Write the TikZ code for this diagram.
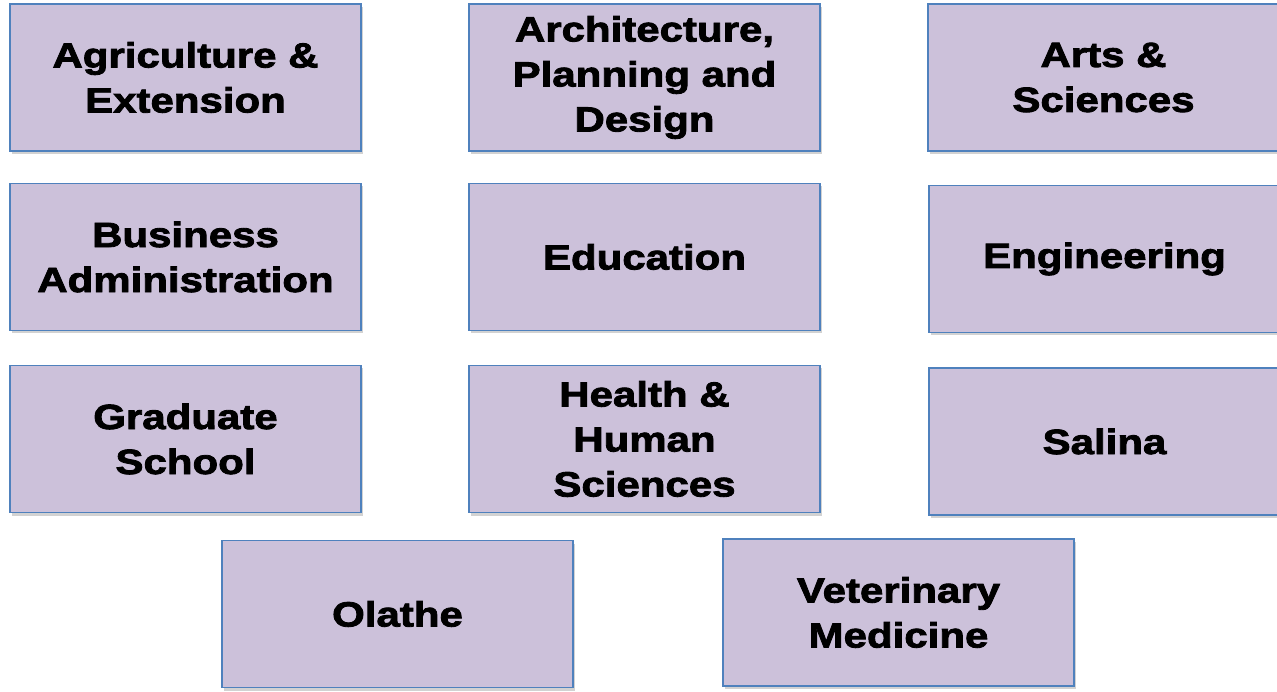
\documentclass[tikz,border=0pt]{standalone}
\usepackage{fontspec}
\setmainfont{Liberation Sans}
\newfontfamily\unitfont[FakeStretch=1.2,FakeBold=2.4]{Liberation Sans Bold}
\usetikzlibrary{shadows}
\definecolor{unitfill}{HTML}{CCC1DA}
\definecolor{unitline}{HTML}{4F81BD}
\tikzset{
  unit/.style={rectangle,draw=unitline,line width=1.2pt,fill=unitfill,
    minimum width=351pt,minimum height=147pt,align=center,
    font=\unitfont\fontsize{35}{45}\selectfont,
    drop shadow={shadow xshift=2pt,shadow yshift=-3pt,fill=black!35}}
}

\begin{document}
\begin{tikzpicture}[x=1pt,y=-1pt]
      \useasboundingbox (0,0) rectangle (1277,692);
      \node[unit](agri) at (185.5,77.5){Agriculture \&\\Extension};
      \node[unit](arch) at (644.5,77.5){Architecture,\\Planning and\\Design};
      \node[unit](arts) at (1103.5,77.5){Arts \&\\Sciences};
      \node[unit](busi) at (185.5,257){Business\\Administration};
      \node[unit](educ) at (644.5,257){Education};
      \node[unit](engi) at (1104.5,259){Engineering};
      \node[unit](grad) at (185.5,439){Graduate\\School};
      \node[unit](hhs) at (644.5,439){Health \&\\Human\\Sciences};
      \node[unit](sali) at (1104.5,441.5){Salina};
      \node[unit](olat) at (397.5,614){Olathe};
      \node[unit](vetm) at (898.5,612.5){Veterinary\\Medicine};
    \end{tikzpicture}
\end{document}
